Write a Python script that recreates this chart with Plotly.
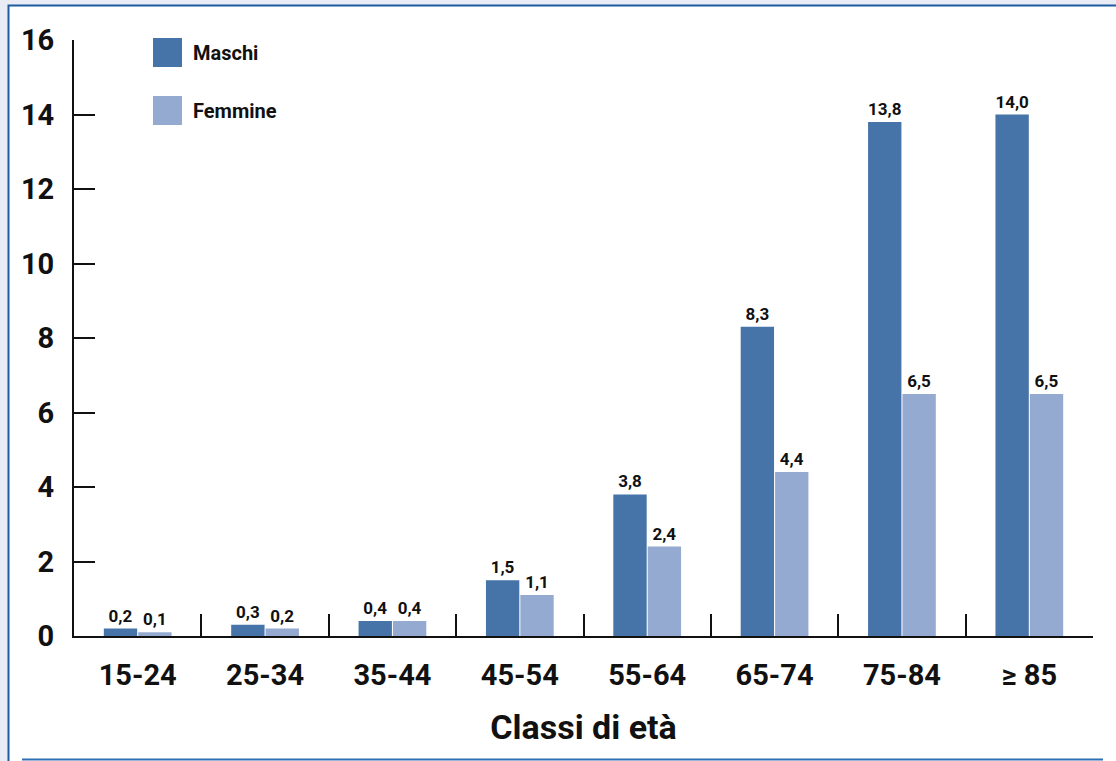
import plotly.graph_objects as go

# Age classes and rates by sex
classi = ["15-24", "25-34", "35-44", "45-54", "55-64", "65-74", "75-84", "≥ 85"]
maschi = [0.2, 0.3, 0.4, 1.5, 3.8, 8.3, 13.8, 14.0]
femmine = [0.1, 0.2, 0.4, 1.1, 2.4, 4.4, 6.5, 6.5]
y_ticks = [0, 2, 4, 6, 8, 10, 12, 14, 16]

FONT = "Liberation Sans Narrow, Roboto, Arial Narrow, sans-serif"
C_M = "#4673a8"
C_F = "#95aad1"

W, H = 1116, 761
L, R, T, B = 74, 23, 40, 125
PW, PH = W - L - R, H - T - B


def px(x):
    return (x - L) / PW


def py(y):
    return (H - B - y) / PH


def fmt(v):
    return f"{v:.1f}".replace(".", ",")


fig = go.Figure()
fig.add_trace(go.Bar(
    x=classi, y=maschi, name="Maschi", marker_color=C_M, marker_line_width=0,
    text=[fmt(v) for v in maschi], textposition="outside", constraintext="none",
    texttemplate="<b>%{text}</b>",
    textfont=dict(family=FONT, size=17, color="#111111"), cliponaxis=False,
))
fig.add_trace(go.Bar(
    x=classi, y=femmine, name="Femmine", marker_color=C_F, marker_line_width=0,
    text=[fmt(v) for v in femmine], textposition="outside", constraintext="none",
    texttemplate="<b>%{text}</b>",
    textfont=dict(family=FONT, size=17, color="#111111"), cliponaxis=False,
))

shapes = [
    # framed white panel
    dict(type="rect", xref="paper", yref="paper",
         x0=px(8.5), x1=px(1140), y0=py(800), y1=py(5.5),
         fillcolor="white", line=dict(color="#1d5d9f", width=2), layer="below"),
    # bottom rule
    dict(type="line", xref="paper", yref="paper",
         x0=px(22), x1=px(1103), y0=py(759.5), y1=py(759.5),
         line=dict(color="#2e6fb3", width=2), layer="below"),
    # legend swatches
    dict(type="rect", xref="paper", yref="paper",
         x0=px(153), x1=px(182), y0=py(67), y1=py(38),
         fillcolor=C_M, line_width=0),
    dict(type="rect", xref="paper", yref="paper",
         x0=px(153), x1=px(182), y0=py(125), y1=py(96),
         fillcolor=C_F, line_width=0),
]

annotations = [
    dict(text="<b>Maschi</b>", xref="paper", yref="paper", x=px(191), y=py(53),
         xanchor="left", yanchor="middle", showarrow=False,
         font=dict(family=FONT, size=20, color="#111111")),
    dict(text="<b>Femmine</b>", xref="paper", yref="paper", x=px(191), y=py(111),
         xanchor="left", yanchor="middle", showarrow=False,
         font=dict(family=FONT, size=20, color="#111111")),
]

fig.update_layout(
    width=W, height=H,
    margin=dict(l=L, r=R, t=T, b=B, pad=0),
    paper_bgcolor="#e9ebf5", plot_bgcolor="rgba(0,0,0,0)",
    barmode="group", bargap=0.46, bargroupgap=0.03,
    showlegend=False,
    font=dict(family=FONT, color="#111111"),
    shapes=shapes, annotations=annotations,
)

fig.update_yaxes(
    range=[0, 16], tickvals=y_ticks, ticktext=[f"<b>{v}</b>" for v in y_ticks],
    showgrid=False, zeroline=False,
    showline=True, linecolor="#111111", linewidth=2,
    ticks="inside", ticklen=21, tickwidth=2, tickcolor="#111111",
    tickfont=dict(family=FONT, size=29, color="#111111"),
    ticklabelstandoff=12,
)
fig.update_xaxes(
    ticktext=[f"<b>{c}</b>" for c in classi], tickvals=classi,
    showgrid=False, zeroline=False,
    showline=True, linecolor="#111111", linewidth=2,
    ticks="inside", tickson="boundaries", ticklen=22, tickwidth=2, tickcolor="#111111",
    tickfont=dict(family=FONT, size=29, color="#111111"),
    ticklabelstandoff=12,
    title=dict(text="<b>Classi di età</b>", font=dict(family=FONT, size=34, color="#111111"),
               standoff=24),
)

fig.write_html("out.html")
